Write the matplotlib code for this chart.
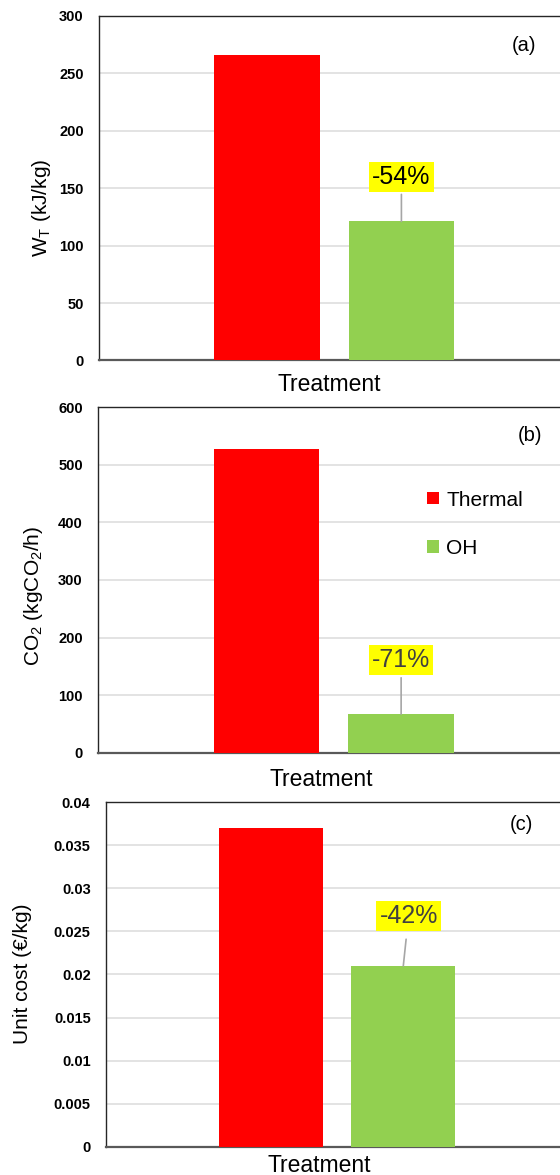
import matplotlib
matplotlib.use("Agg")
import matplotlib.pyplot as plt
from matplotlib.ticker import FuncFormatter, MultipleLocator

plt.rcParams['font.family'] = ['Liberation Sans', 'DejaVu Sans']
plt.rcParams['mathtext.fontset'] = 'custom'
plt.rcParams['mathtext.rm'] = 'Liberation Sans'
plt.rcParams['mathtext.it'] = 'Liberation Sans'

# values per panel: (a) specific work, (b) CO2 emissions, (c) unit cost
treatments = ['Thermal', 'OH']
thermal = [266, 527, 0.037]
oh = [121, 67, 0.021]
reductions = ['-54%', '-71%', '-42%']
tag_y = [160, 161, 0.0268]
panel_tags = ['(a)', '(b)', '(c)']
ylabels = ['W$_\\mathrm{T}$ (kJ/kg)', 'CO$_2$ (kgCO$_2$/h)', 'Unit cost (€/kg)']
ymax = [300, 600, 0.04]
ystep = [50, 100, 0.005]

RED = '#ff0000'
GREEN = '#92d050'

fig = plt.figure(figsize=(5.6, 11.75), dpi=100)

# axes boxes in figure fractions, plus label placements in axes fractions
boxes = [[0.1768, 0.6932, 0.828, 0.2934],
         [0.1750, 0.3594, 0.830, 0.2940],
         [0.1893, 0.0241, 0.814, 0.2931]]
ylab_pos = [(-0.123, 0.444), (-0.139, 0.454), (-0.183, 0.501)]
xlab_pos = [(0.496, -0.071), (0.480, -0.079), (0.467, -0.055)]
tag_pos = [(0.917, 0.914), (0.929, 0.917), (0.912, 0.935)]
tag_dx = [0.0, 0.0, 0.04]
shrink = [2, 2, 6]
tag_color = ['black', '#404040', '#404040']

for i in range(3):
    ax = fig.add_axes(boxes[i])
    bars = ax.bar([0, 1], [thermal[i], oh[i]], width=0.785,
                  color=[RED, GREEN], zorder=3)
    ax.set_xlim(-1.25, 2.2)
    ax.set_ylim(0, ymax[i])
    ax.yaxis.set_major_locator(MultipleLocator(ystep[i]))
    ax.yaxis.set_major_formatter(FuncFormatter(lambda v, p: '{:g}'.format(round(v, 4))))
    ax.grid(axis='y', color='#dedede', lw=1.2, zorder=0)
    ax.set_xticks([])
    ax.tick_params(axis='y', length=0, pad=11, labelsize=10.5)
    for t in ax.get_yticklabels():
        t.set_fontweight('bold')

    ax.spines['right'].set_visible(False)
    ax.spines['top'].set_color('#262626')
    ax.spines['top'].set_linewidth(1.0)
    ax.spines['left'].set_color('#262626')
    ax.spines['left'].set_linewidth(1.0)
    ax.spines['bottom'].set_color('#595959')
    ax.spines['bottom'].set_linewidth(1.6)

    ax.set_ylabel(ylabels[i], fontsize=15, va='center')
    ax.yaxis.set_label_coords(*ylab_pos[i])
    ax.set_xlabel('Treatment', fontsize=16.5, va='center')
    ax.xaxis.set_label_coords(*xlab_pos[i])

    ax.text(tag_pos[i][0], tag_pos[i][1], panel_tags[i], transform=ax.transAxes,
            ha='center', va='center', fontsize=14.5)

    # percentage reduction callout over the OH bar
    ax.annotate(reductions[i], xy=(1, oh[i]), xytext=(1 + tag_dx[i], tag_y[i]),
                ha='center', va='center', fontsize=18, color=tag_color[i],
                bbox=dict(boxstyle='square,pad=0.12', fc='#ffff00', ec='none'),
                arrowprops=dict(arrowstyle='-', color='#a6a6a6', lw=1.2,
                                shrinkA=shrink[i], shrinkB=0),
                zorder=4)

    if i == 1:
        ax.legend(bars, treatments, loc='upper left', bbox_to_anchor=(0.708, 0.759),
                  frameon=False, fontsize=15, handlelength=0.58, handleheight=0.56,
                  handletextpad=0.33, labelspacing=1.4, borderpad=0, borderaxespad=0)

fig.savefig('out.png', dpi=100)
